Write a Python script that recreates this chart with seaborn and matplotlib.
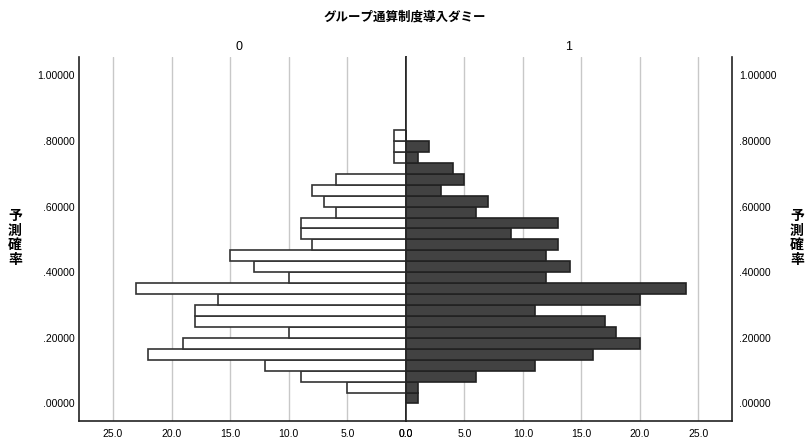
import numpy as np
import pandas as pd
import matplotlib
matplotlib.use("Agg")
from matplotlib import pyplot as plt
import seaborn as sns

# bins of the predicted probability, 1/30 wide, from 0 up to .8333
bin_width = 1 / 30
n_bins = 25

# counts per bin, from the lowest bin (.00000) upwards
counts_0 = [0, 5, 9, 12, 22, 19, 10, 18, 18, 16, 23, 10, 13, 15, 8, 9, 9, 6, 7, 8, 6, 0, 1, 1, 1]
counts_1 = [1, 1, 6, 11, 16, 20, 18, 17, 11, 20, 24, 12, 14, 12, 13, 9, 13, 6, 7, 3, 5, 4, 1, 2, 0]

group_labels = ["0", "1"]
x_ticks = [0, 5, 10, 15, 20, 25]
x_tick_labels = ["0.0", "5.0", "10.0", "15.0", "20.0", "25.0"]
y_ticks = [0, 0.2, 0.4, 0.6, 0.8, 1.0]
y_tick_labels = [".00000", ".20000", ".40000", ".60000", ".80000", "1.00000"]

title = "グループ通算制度導入ダミー"
y_label = "予測確率"

edges = [i * bin_width for i in range(n_bins + 1)]
centers = [e + bin_width / 2 for e in edges[:-1]]
df0 = pd.DataFrame({"p": centers, "n": counts_0})
df1 = pd.DataFrame({"p": centers, "n": counts_1})

sns.set_style("white")
plt.rcParams["font.family"] = ["Liberation Sans", "Noto Sans CJK JP", "DejaVu Sans"]
plt.rcParams["text.color"] = "black"
plt.rcParams["xtick.color"] = "black"
plt.rcParams["ytick.color"] = "black"

W, H = 809, 437
fig = plt.figure(figsize=(W / 100, H / 100), dpi=100)


def frac(x, y):
    return x / W, 1 - y / H


left, right, top, bottom, mid = 79, 732, 57, 421, 406
ax0 = fig.add_axes([left / W, 1 - bottom / H, (mid - left) / W, (bottom - top) / H])
ax1 = fig.add_axes([mid / W, 1 - bottom / H, (right - mid) / W, (bottom - top) / H])

sns.histplot(data=df0, y="p", weights="n", bins=edges, ax=ax0,
             color="white", edgecolor="#333333", linewidth=1.2, alpha=1, zorder=3)
sns.histplot(data=df1, y="p", weights="n", bins=edges, ax=ax1,
             color="#424242", edgecolor="#222222", linewidth=1.2, alpha=1, zorder=3)

for ax in (ax0, ax1):
    ax.set_xlim(0, 27.9)
    ax.set_ylim(-0.0535, 1.056)
    ax.set_xlabel("")
    ax.set_ylabel("")
    ax.set_xticks(x_ticks)
    ax.set_xticklabels(x_tick_labels, fontsize=7.5)
    ax.set_yticks(y_ticks)
    ax.tick_params(length=0, labelsize=7.5, labelcolor="black")
    ax.tick_params(axis="x", pad=5.5)
    for g in x_ticks[1:]:
        ax.axvline(g, color="#c8c8c8", lw=1, zorder=1)
    ax.spines["top"].set_visible(False)
    for s in ("left", "right", "bottom"):
        ax.spines[s].set_color("#222222")
        ax.spines[s].set_linewidth(1.2)

ax0.invert_xaxis()
ax0.set_yticklabels(y_tick_labels)
ax0.tick_params(axis="y", pad=3)
ax1.yaxis.tick_right()
ax1.set_yticklabels(y_tick_labels)
ax1.tick_params(axis="y", pad=5, labelleft=False, labelright=True)

fig.text(*frac(405, 17), title, ha="center", va="center", fontsize=9, fontweight="bold")
fig.text(*frac((left + mid) / 2 - 4, 47), group_labels[0], ha="center", va="center", fontsize=9)
fig.text(*frac((mid + right) / 2, 47), group_labels[1], ha="center", va="center", fontsize=9)

vlabel = "\n".join(y_label)
fig.text(*frac(15, 238), vlabel, ha="center", va="center", fontsize=10,
         fontweight="bold", linespacing=1.05)
fig.text(*frac(797, 238), vlabel, ha="center", va="center", fontsize=10,
         fontweight="bold", linespacing=1.05)

fig.savefig("out.png", dpi=100)
